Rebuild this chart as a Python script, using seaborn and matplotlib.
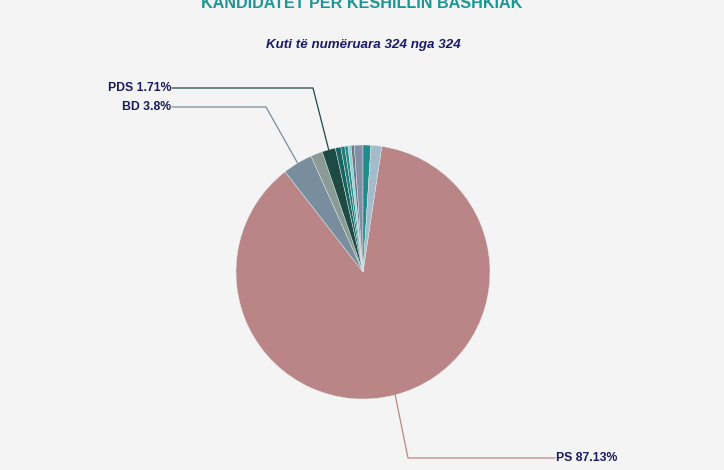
import numpy as np
import matplotlib
matplotlib.use('Agg')
import matplotlib.pyplot as plt
import seaborn as sns

# te dhenat e grafikut (perqindjet e kandidateve)
parties = ['PS', 'BD', 'P3', 'PDS', 'P5', 'P6', 'P7', 'P8', 'P9', 'P10', 'P11', 'P12']
shares = [87.13, 3.8, 1.5, 1.71, 0.7, 0.5, 0.4, 0.4, 0.4, 1.1, 1.0, 1.36]
colors = ['#b98587', '#788d9e', '#8a9a94', '#1e4a44', '#17655f', '#1f7a78',
          '#2a8a88', '#8ad4dc', '#6c7585', '#8290a5', '#1e8c8c', '#a3bccc']
labelled = ['PS', 'BD', 'PDS']

sns.set_style('white', {'axes.facecolor': '#f4f4f4', 'figure.facecolor': '#f4f4f4'})
plt.rcParams['font.family'] = ['Liberation Sans', 'DejaVu Sans']

W, H = 724, 470
fig = plt.figure(figsize=(W / 100, H / 100), dpi=100)
ax = fig.add_axes([0, 0, 1, 1])

cx, cy, r = 363, H - 272, 127
wedges, _ = ax.pie(shares, colors=colors, startangle=81.5, counterclock=False,
                   center=(cx, cy), radius=r,
                   wedgeprops=dict(linewidth=0.3, edgecolor='#e8ecec'))
ax.set_xlim(0, W)
ax.set_ylim(0, H)
ax.set_axis_off()

# leader lines: (elbow, text anchor) in pixel coordinates
layout = {
    'PS': ((408, 458), (555, 458), 'left'),
    'BD': ((266, 107), (172, 107), 'right'),
    'PDS': ((313, 88), (172, 88), 'right'),
}
for name in labelled:
    i = parties.index(name)
    w = wedges[i]
    ang = np.deg2rad((w.theta1 + w.theta2) / 2)
    ex, ey = cx + r * np.cos(ang), cy + r * np.sin(ang)
    (bx, by), (tx, ty), ha = layout[name]
    ax.plot([ex, bx, tx], [ey, H - by, H - ty], color=colors[i], lw=0.9)
    txt = '{} {}%'.format(name, shares[i])
    ax.text(tx + (1 if ha == 'left' else -1), H - ty, txt, ha=ha, va='center',
            fontsize=8.8, fontweight='bold', color='#1a1a5e')

# titulli eshte i prere ne krye si ne origjinal
fig.text(362 / W, 1 - 3 / H, 'KANDIDATET PER KESHILLIN BASHKIAK', ha='center',
         va='center', fontsize=11.6, fontweight='bold', color='#1c9696')
fig.text(363 / W, 1 - 45 / H, 'Kuti të numëruara 324 nga 324', ha='center',
         va='center', fontsize=9.6, fontweight='bold', fontstyle='italic',
         color='#1a1a6e')

fig.savefig('out.png', dpi=100, facecolor='#f4f4f4')
